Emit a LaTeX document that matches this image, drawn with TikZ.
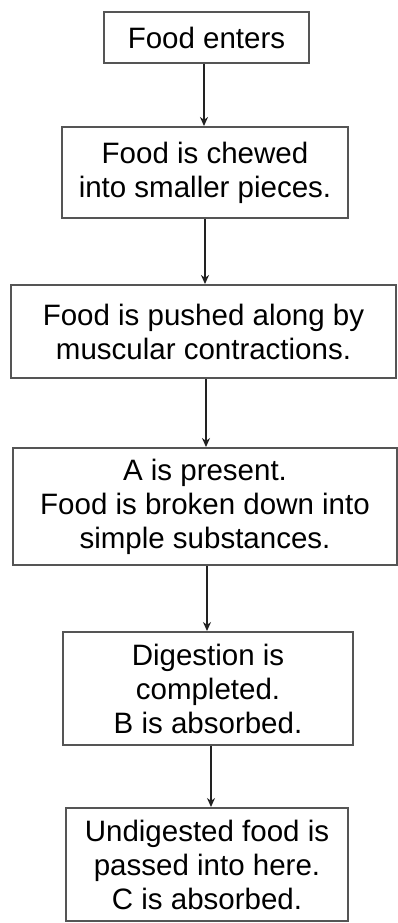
\documentclass[tikz,border=0pt]{standalone}
\usepackage{fontspec}
\setmainfont{Liberation Sans}
\usetikzlibrary{arrows.meta}
\definecolor{boxgray}{HTML}{555555}
\definecolor{arrowdark}{HTML}{222222}

\begin{document}
\begin{tikzpicture}[x=1pt,y=-1pt,
    stage/.style={draw=boxgray,line width=2pt,inner sep=0pt,align=center,
      font=\fontsize{29.5}{34}\selectfont},
    flow/.style={arrowdark,line width=2pt,-{Stealth[length=9pt,width=8pt]}}]
    \useasboundingbox (0,0) rectangle (398,923);
    % stages
    \node[stage,minimum width=205pt,minimum height=51pt] (enter) at (206.5,37.5) {Food enters};
    \node[stage,minimum width=286pt,minimum height=91pt] (chew) at (205,172.5) {Food is chewed\\into smaller pieces.};
    \node[stage,minimum width=385pt,minimum height=93pt] (push) at (203.5,331.5) {Food is pushed along by\\muscular contractions.};
    \node[stage,minimum width=384pt,minimum height=117pt] (break) at (205,506.5) {A is present.\\Food is broken down into\\simple substances.};
    \node[stage,minimum width=290pt,minimum height=113pt] (digest) at (208,688.5) {Digestion is\\completed.\\B is absorbed.};
    \node[stage,minimum width=282pt,minimum height=113pt] (waste) at (207,864.5) {Undigested food is\\passed into here.\\C is absorbed.};
    % arrows
    \draw[flow] (enter.south -| 204,0) -- (chew.north -| 204,0);
    \draw[flow] (chew.south -| 205,0) -- (push.north -| 205,0);
    \draw[flow] (push.south -| 206,0) -- (break.north -| 206,0);
    \draw[flow] (break.south -| 207,0) -- (digest.north -| 207,0);
    \draw[flow] (digest.south -| 211,0) -- (waste.north -| 211,0);
\end{tikzpicture}
\end{document}
